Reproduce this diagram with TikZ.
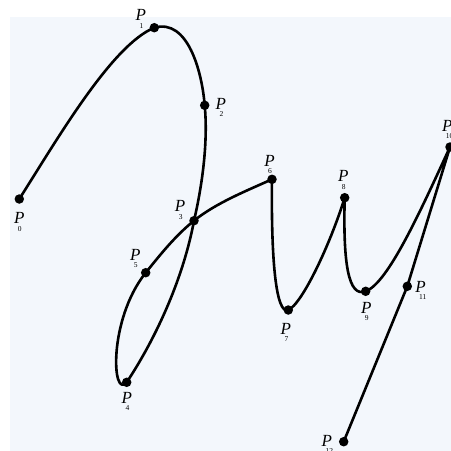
\documentclass[tikz,border=0pt]{standalone}
\usepackage{fontspec}
\setmainfont{Liberation Serif}
\definecolor{bgblue}{RGB}{243,247,252}
\newcommand{\plab}[1]{\fontsize{17}{17}\selectfont\textit{P}\kern-6.5pt\raisebox{-7.5pt}{\fontsize{7.5}{8}\selectfont #1}}
\begin{document}
\begin{tikzpicture}[x=1pt,y=-1pt,
  curve/.style={line width=2.6pt,black,line join=round,line cap=round},
  dot/.style={circle,fill=black,inner sep=0pt,minimum size=9.5pt},
  lab/.style={anchor=base west,inner sep=0pt,outer sep=0pt}]
\useasboundingbox (0,0) rectangle (451,451);
\fill[bgblue] (10,17.3) rectangle (451,451);
\coordinate (p0) at (19.3,199);
\coordinate (p1) at (154.3,27.7);
\coordinate (p2) at (204.7,105.3);
\coordinate (p3) at (194,220.7);
\coordinate (p4) at (126.7,382.3);
\coordinate (p5) at (145.7,272.7);
\coordinate (p6) at (272,179.3);
\coordinate (p7) at (288.3,310);
\coordinate (p8) at (344.7,197.7);
\coordinate (p9) at (365.7,291.3);
\coordinate (p10) at (450,147);
\coordinate (p11) at (407.3,286.3);
\coordinate (p12) at (343.7,441.7);
\draw[curve] (p0) .. controls (58,138) and (112,45) .. (p1)
  .. controls (188,18) and (202,72) .. (p2)
  .. controls (208,140) and (203,182) .. (p3)
  .. controls (184,275) and (158,335) .. (p4)
  .. controls (112,400) and (108,320) .. (p5)
  .. controls (160,255) and (175,236) .. (p3)
  .. controls (216,203) and (246,191) .. (p6)
  .. controls (271,260) and (276,315) .. (p7)
  .. controls (302,304) and (330,245) .. (p8)
  .. controls (343,262) and (348,298) .. (p9)
  .. controls (388,283) and (420,212) .. (p10)
  -- (p11) -- (p12);
\foreach \i in {0,...,12} \node[dot] (d\i) at (p\i) {};
\node[lab] (l0) at (14,223.5) {\plab{0}};
\node[lab] (l1) at (135.7,20.7) {\plab{1}};
\node[lab] (l2) at (215.7,109.3) {\plab{2}};
\node[lab] (l3) at (175,211.7) {\plab{3}};
\node[lab] (l4) at (121.7,403.3) {\plab{4}};
\node[lab] (l5) at (130,260) {\plab{5}};
\node[lab] (l6) at (264.3,166) {\plab{6}};
\node[lab] (l7) at (280.7,334.3) {\plab{7}};
\node[lab] (l8) at (338,181.7) {\plab{8}};
\node[lab] (l9) at (361,313.3) {\plab{9}};
\node[lab] (l10) at (442,131) {\plab{10}};
\node[lab] (l11) at (415.3,292) {\plab{11}};
\node[lab] (l12) at (321.7,446) {\plab{12}};
\end{tikzpicture}
\end{document}
